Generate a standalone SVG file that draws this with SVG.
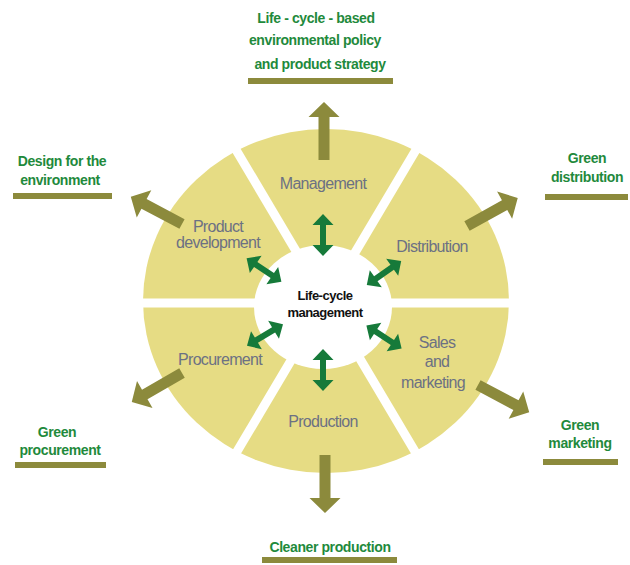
<svg xmlns="http://www.w3.org/2000/svg" width="630" height="565" viewBox="0 0 630 565">
<style>
.sec{font-family:"Liberation Sans",Arial,sans-serif;font-size:16px;fill:#6c7183;text-anchor:middle;letter-spacing:-0.7px}
.out{font-family:"Liberation Sans",Arial,sans-serif;font-size:14px;font-weight:bold;fill:#1f8a3c;text-anchor:middle;letter-spacing:-0.4px}
.ctr{font-family:"Liberation Sans",Arial,sans-serif;font-size:13px;font-weight:bold;fill:#111;text-anchor:middle;letter-spacing:-0.5px}
.bar{fill:#8c8a3c}
.oa{fill:#8c8a3c}
.ga{fill:#167a3a}
.gap{stroke:#fff;stroke-width:9}
</style>
<defs>
<path id="oarrow" d="M0,-5.5 L43,-5.5 L43,-15.5 L58,0 L43,15.5 L43,5.5 L0,5.5 Z"/>
<path id="garrow" d="M-21,0 L-10,-10.5 L-10,-3 L10,-3 L10,-10.5 L21,0 L10,10.5 L10,3 L-10,3 L-10,10.5 Z"/>
</defs>
<rect width="630" height="565" fill="#fff"/>
<g id="wheel">
<ellipse cx="326" cy="301" rx="183" ry="172" fill="#e6dc84"/>
<line class="gap" x1="226" y1="133" x2="426" y2="470"/>
<line class="gap" x1="426" y1="133" x2="226" y2="470"/>
<line class="gap" x1="130" y1="303" x2="525" y2="303"/>
<ellipse cx="323" cy="307" rx="69" ry="62" fill="#fff"/>
</g>
<g id="connectors">
<use href="#oarrow" class="oa" transform="translate(324,160) rotate(-90)"/>
<use href="#oarrow" class="oa" transform="translate(325,455) rotate(90)"/>
<use href="#oarrow" class="oa" transform="translate(182,224) rotate(-152)"/>
<use href="#oarrow" class="oa" transform="translate(467,226) rotate(-29)"/>
<use href="#oarrow" class="oa" transform="translate(182,373) rotate(150)"/>
<use href="#oarrow" class="oa" transform="translate(478,385) rotate(28)"/>
<use href="#garrow" class="ga" transform="translate(323,235) rotate(90)"/>
<use href="#garrow" class="ga" transform="translate(323,370) rotate(90)"/>
<use href="#garrow" class="ga" transform="translate(264,270) rotate(34)"/>
<use href="#garrow" class="ga" transform="translate(384,273) rotate(-35)"/>
<use href="#garrow" class="ga" transform="translate(265,335) rotate(-31)"/>
<use href="#garrow" class="ga" transform="translate(384,337) rotate(33)"/>
</g>
<g id="center"><text class="ctr" x="325" y="300">Life-cycle</text><text class="ctr" x="325" y="317">management</text></g>
<g id="management"><text class="sec" x="323" y="189">Management</text></g>
<g id="product-development"><text class="sec" x="218" y="232">Product</text><text class="sec" x="218" y="248">development</text></g>
<g id="distribution"><text class="sec" x="432" y="252">Distribution</text></g>
<g id="procurement"><text class="sec" x="220" y="365">Procurement</text></g>
<g id="sales"><text class="sec" x="437" y="348">Sales</text><text class="sec" x="437" y="367">and</text><text class="sec" x="433" y="388">marketing</text></g>
<g id="production"><text class="sec" x="323" y="427">Production</text></g>
<g id="policy"><text class="out" x="316" y="23">Life - cycle - based</text><text class="out" x="315" y="45">environmental policy</text><text class="out" x="320" y="69">and product strategy</text><rect class="bar" x="248" y="78" width="145" height="6"/></g>
<g id="design"><text class="out" x="62" y="166">Design for the</text><text class="out" x="60" y="185">environment</text><rect class="bar" x="13" y="193" width="99" height="6"/></g>
<g id="green-distribution"><text class="out" x="587" y="163">Green</text><text class="out" x="587" y="182">distribution</text><rect class="bar" x="545" y="194" width="83" height="6"/></g>
<g id="green-procurement"><text class="out" x="57" y="437">Green</text><text class="out" x="60" y="455">procurement</text><rect class="bar" x="15" y="462" width="91" height="6"/></g>
<g id="green-marketing"><text class="out" x="580" y="430">Green</text><text class="out" x="580" y="448">marketing</text><rect class="bar" x="543" y="459" width="75" height="6"/></g>
<g id="cleaner"><text class="out" x="330" y="552">Cleaner production</text><rect class="bar" x="262" y="557" width="135" height="6"/></g>
</svg>
